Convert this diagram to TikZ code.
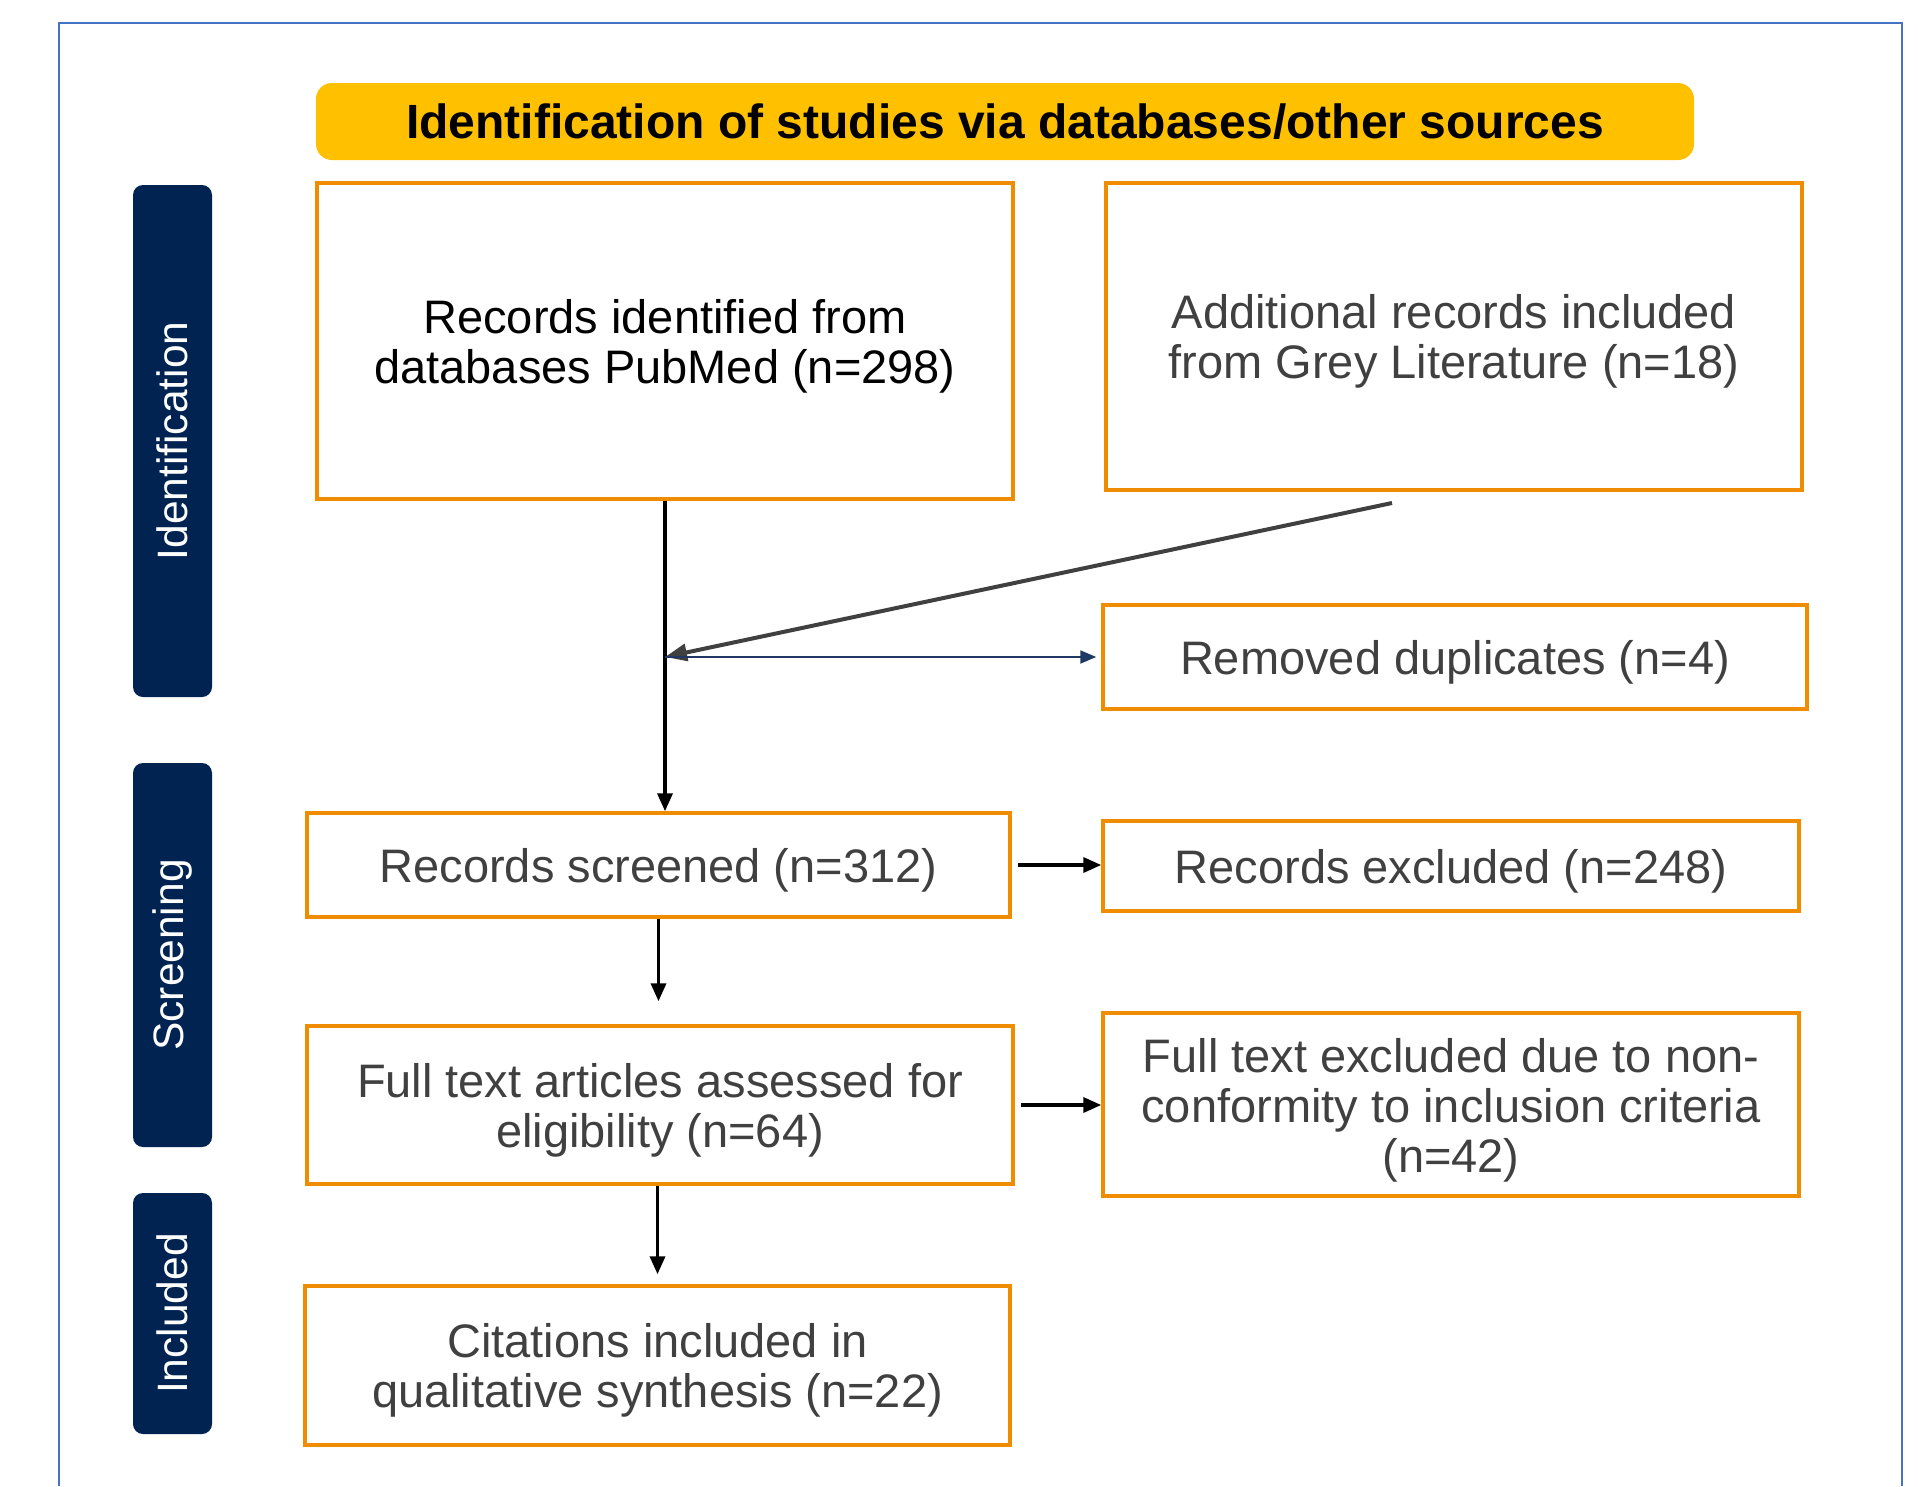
\documentclass[tikz,border=0pt]{standalone}
\usepackage{fontspec}
\setmainfont{Liberation Sans}
\usetikzlibrary{arrows.meta,calc}
\definecolor{boxorange}{RGB}{240,140,0}
\definecolor{hdryellow}{RGB}{255,192,0}
\definecolor{navy}{RGB}{0,35,82}
\definecolor{txtgrey}{RGB}{64,64,64}
\definecolor{framblue}{RGB}{68,114,196}
\definecolor{arrblue}{RGB}{31,56,100}
\definecolor{lngrey}{RGB}{64,64,64}
\begin{document}
\begin{tikzpicture}[x=1pt,y=-1pt,
  box/.style={draw=boxorange, line width=3.5pt, inner sep=0pt},
  txt/.style={align=center, text=txtgrey, inner sep=0pt, font=\fontsize{47}{50}\selectfont},
  bar/.style={fill=navy, rounded corners=10pt, inner sep=0pt, rotate=90, minimum height=79pt, text=white, font=\fontsize{42.5}{50}\selectfont},
  conn/.style={line width=3.5pt, -{Triangle[length=18pt,width=15pt]}},
]
\useasboundingbox (0,0) rectangle (1918,1486);
\draw[framblue, line width=2pt] (59,1486) -- (59,23) -- (1902,23) -- (1902,1486);

\node[fill=hdryellow, rounded corners=16pt, minimum width=1378pt, minimum height=77pt, inner sep=0pt, font=\bfseries\fontsize{48}{50}\selectfont] (hdr) at (1005,121.5) {Identification of studies via databases/other sources};

\node[bar, minimum width=512pt] (b1) at (172.5,441) {Identification};
\node[bar, minimum width=384pt] (b2) at (172.5,955) {Screening};
\node[bar, minimum width=241pt] (b3) at (172.5,1313.5) {Included};

\node[box, minimum width=696pt, minimum height=316pt] (ri) at (665,341) {};
\node[box, minimum width=696pt, minimum height=307pt] (add) at (1454,336.5) {};
\node[box, minimum width=704pt, minimum height=104pt] (dup) at (1455,657) {};
\node[box, minimum width=703pt, minimum height=104pt] (scr) at (658.5,865) {};
\node[box, minimum width=696pt, minimum height=90pt] (exc) at (1451,866) {};
\node[box, minimum width=706pt, minimum height=158pt] (ft) at (660,1105) {};
\node[box, minimum width=696pt, minimum height=183pt] (fte) at (1451,1104.5) {};
\node[box, minimum width=705pt, minimum height=159pt] (cit) at (657.5,1365.5) {};

\node[txt, text=black] (ri-t) at ($(ri.center)+(0,5)$) {Records identified from\\databases PubMed (n=298)};
\node[txt] (add-t) at ($(add.center)+(0,5)$) {Additional records included\\from Grey Literature (n=18)};
\node[txt] (dup-t) at ($(dup.center)+(0,5)$) {Removed duplicates (n=4)};
\node[txt] (scr-t) at ($(scr.center)+(0,5)$) {Records screened (n=312)};
\node[txt] (exc-t) at ($(exc.center)+(0,5)$) {Records excluded (n=248)};
\node[txt] (ft-t) at ($(ft.center)+(0,5)$) {Full text articles assessed for\\eligibility (n=64)};
\node[txt] (fte-t) at ($(fte.center)+(0,6)$) {Full text excluded due to non-\\conformity to inclusion criteria\\(n=42)};
\node[txt] (cit-t) at ($(cit.center)+(0,5)$) {Citations included in\\qualitative synthesis (n=22)};

\coordinate (j) at (665,657);
\coordinate (gs) at (1392,503);

\draw[conn] (ri.south) -- (ri.south |- scr.north);
\draw[line width=4pt, lngrey, -{Triangle[length=22pt,width=17pt]}] (gs) -- (j);
\draw[line width=2pt, arrblue, -{Triangle[length=16pt,width=13pt]}, shorten >=5pt] (j) -- (j -| dup.west);
\draw[conn, shorten <=6pt] (scr.east) -- (scr.east -| exc.west);
\draw[conn, shorten >=23pt] (scr.south) -- (scr.south |- ft.north);
\draw[conn, shorten <=6pt] (ft.east) -- (ft.east -| fte.west);
\draw[conn, shorten >=10pt] (cit.north |- ft.south) -- (cit.north);
\end{tikzpicture}
\end{document}
